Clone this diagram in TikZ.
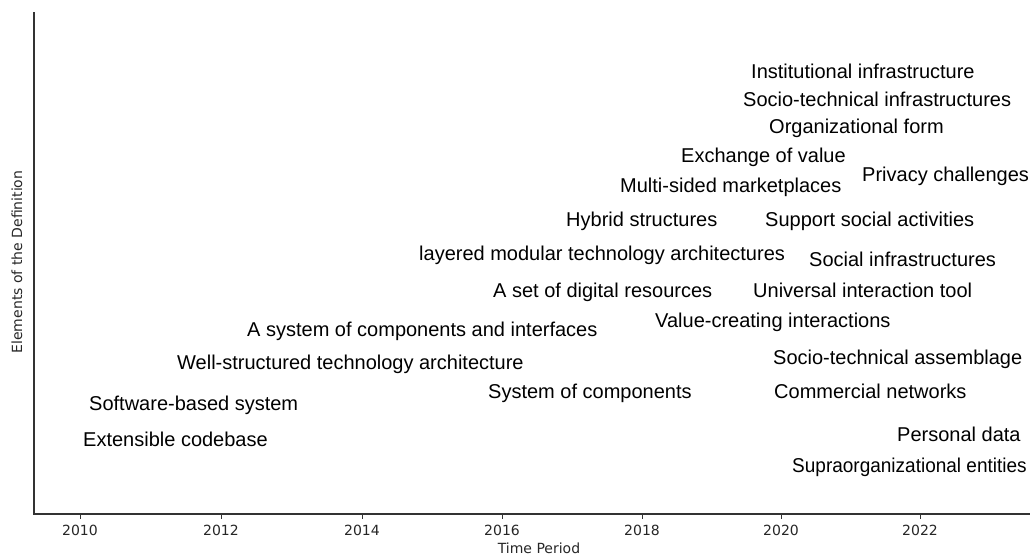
\documentclass[tikz,border=0pt]{standalone}
\usepackage{fontspec}
\setmainfont{Liberation Sans}
\newfontfamily\axisfont{DejaVu Sans}
\begin{document}
\begin{tikzpicture}[x=1pt,y=-1pt,
  term/.style={anchor=base west, inner sep=0pt, text=black,
    font=\fontsize{20}{24}\selectfont},
  ticklbl/.style={anchor=base, inner sep=0pt, text=black!85,
    font=\axisfont\fontsize{14}{16}\selectfont},
  spine/.style={draw=black!80, line width=1.1pt},
  tickmark/.style={draw=black!80, line width=0.9pt}]
\useasboundingbox (0,0) rectangle (1030,558);

% axes spines
\coordinate (top) at (34,12);
\coordinate (origin) at (34,514);
\coordinate (right) at (1030,514);
\draw[spine] (top) -- (origin) -- (right);

% x ticks and year labels
\foreach \yr/\px in {2010/80,2012/221,2014/362,2016/502,2018/642,2020/781,2022/920}{
  \coordinate (t\yr) at (\px,514);
  \coordinate (tb\yr) at (\px,518.5);
  \draw[tickmark] (t\yr) -- (tb\yr);
  \node[ticklbl] (l\yr) at (\px,535) {\yr};
}

% axis titles
\node[ticklbl] (xtitle) at (539,553) {Time Period};
\node[ticklbl, rotate=90] (ytitle) at (22,262) {Elements of the Definition};

% definition elements
\node[term] (n1)  at (751,78)  {Institutional infrastructure};
\node[term] (n2)  at (743,106) {Socio-technical infrastructures};
\node[term] (n3)  at (769,133) {Organizational form};
\node[term] (n4)  at (681,162) {Exchange of value};
\node[term] (n5)  at (862,181) {Privacy challenges};
\node[term] (n6)  at (620,192) {Multi-sided marketplaces};
\node[term] (n7)  at (566,226) {Hybrid structures};
\node[term] (n8)  at (765,226) {Support social activities};
\node[term] (n9)  at (419,260) {layered modular technology architectures};
\node[term] (n10) at (809,266) {Social infrastructures};
\node[term] (n11) at (493,297) {A set of digital resources};
\node[term] (n12) at (753,297) {Universal interaction tool};
\node[term] (n13) at (655,327) {Value-creating interactions};
\node[term] (n14) at (247,336) {A system of components and interfaces};
\node[term] (n15) at (177,369) {Well-structured technology architecture};
\node[term] (n16) at (773,364) {Socio-technical assemblage};
\node[term] (n17) at (488,398) {System of components};
\node[term] (n18) at (774,398) {Commercial networks};
\node[term] (n19) at (89,410)  {Software-based system};
\node[term] (n20) at (83,446)  {Extensible codebase};
\node[term] (n21) at (897,441) {Personal data};
\node[term] (n22) at (792,472) {\scalebox{0.95}[1]{Supraorganizational entities}};
\end{tikzpicture}
\end{document}
